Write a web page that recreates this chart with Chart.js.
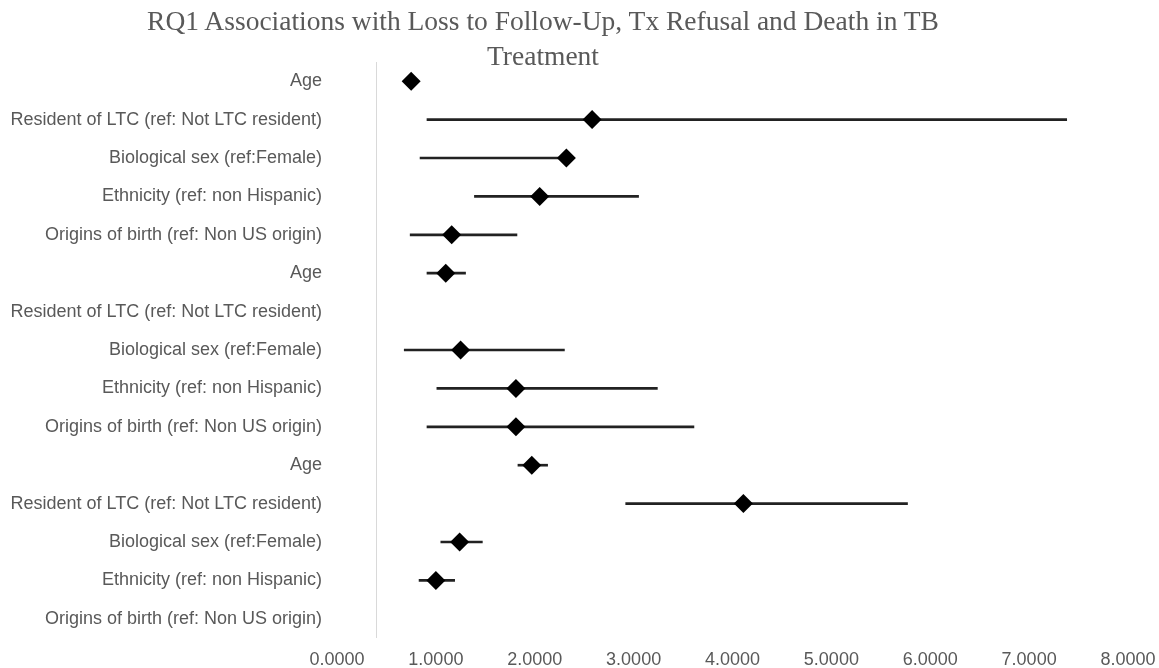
<!DOCTYPE html>
<html>
<head>
<meta charset="utf-8">
<script src="https://cdn.jsdelivr.net/npm/chart.js@4"></script>
<style>
  body { margin: 0; background: #fff; }
  #wrap { position: relative; width: 1159px; height: 668px; }
  #title {
    position: absolute; top: 3px; left: 0; width: 1086px;
    text-align: center; font-family: "Liberation Serif", "Times New Roman", serif;
    font-size: 27.5px; line-height: 35px; color: #595959;
  }
</style>
</head>
<body>
<div id="wrap">
  <div id="title">RQ1 Associations with Loss to Follow-Up, Tx Refusal and Death in TB<br>Treatment</div>
  <canvas id="forest" width="1159" height="668"></canvas>
</div>
<script>
// Forest plot

const rowLabels = [
  "Age",
  "Resident of LTC (ref: Not LTC resident)",
  "Biological sex (ref:Female)",
  "Ethnicity (ref: non Hispanic)",
  "Origins of birth (ref: Non US origin)",
  "Age",
  "Resident of LTC (ref: Not LTC resident)",
  "Biological sex (ref:Female)",
  "Ethnicity (ref: non Hispanic)",
  "Origins of birth (ref: Non US origin)",
  "Age",
  "Resident of LTC (ref: Not LTC resident)",
  "Biological sex (ref:Female)",
  "Ethnicity (ref: non Hispanic)",
  "Origins of birth (ref: Non US origin)",
];

const oddsRatio = [0.75, 2.58, 2.32, 2.05, 1.16, 1.10, null, 1.25, 1.81, 1.81, 1.97, 4.11, 1.24, 1.00, null];
const ciLower   = [0.73, 0.91, 0.84, 1.39, 0.74, 0.91, null, 0.68, 1.01, 0.91, 1.83, 2.92, 1.05, 0.83, null];
const ciUpper   = [0.77, 7.38, 2.33, 3.05, 1.82, 1.30, null, 2.30, 3.24, 3.61, 2.13, 5.77, 1.47, 1.19, null];

const xTicks = [0, 1, 2, 3, 4, 5, 6, 7, 8];
const refLineX = 0.39;

const ciBars = ciLower.map((lo, i) => (lo === null ? null : [lo, ciUpper[i]]));

const refLine = {
  id: "refLine",
  beforeDatasetsDraw(chart) {
    const { ctx, chartArea, scales } = chart;
    const x = Math.round(scales.x.getPixelForValue(refLineX)) + 0.5;
    ctx.save();
    ctx.strokeStyle = "#d9d9d9";
    ctx.lineWidth = 1;
    ctx.beginPath();
    ctx.moveTo(x, chartArea.top);
    ctx.lineTo(x, chartArea.bottom);
    ctx.stroke();
    ctx.restore();
  },
};

const ctx = document.getElementById("forest");

new Chart(ctx, {
  type: "bar",
  data: {
    labels: rowLabels,
    datasets: [
      {
        type: "line",
        label: "Odds ratio",
        data: oddsRatio,
        showLine: false,
        pointStyle: "rectRot",
        pointRadius: 9.5,
        pointBackgroundColor: "#000",
        pointBorderColor: "#000",
        pointBorderWidth: 0,
        order: 0,
      },
      {
        label: "95% CI",
        data: ciBars,
        backgroundColor: "#222",
        barThickness: 2,
        order: 1,
      },
    ],
  },
  options: {
    indexAxis: "y",
    responsive: false,
    animation: false,
    layout: { padding: { top: 62, right: 31, left: 0, bottom: 0 } },
    plugins: {
      legend: { display: false },
      title: { display: false },
      tooltip: { enabled: false },
    },
    scales: {
      x: {
        min: 0,
        max: 8,
        afterBuildTicks: (s) => { s.ticks = xTicks.map((v) => ({ value: v })); },
        afterFit: (s) => {
          s.height = 30;
          s.paddingLeft = 0;
          s.paddingRight = 0;
        },
        grid: { display: false, drawTicks: false },
        border: { display: false },
        ticks: {
          padding: 11,
          color: "#595959",
          maxRotation: 0,
          font: { family: "Liberation Sans, Arial, sans-serif", size: 18 },
          callback: (v) => Number(v).toFixed(4),
        },
      },
      y: {
        afterFit: (s) => { s.width = 337; },
        grid: { display: false, drawTicks: false },
        border: { display: false },
        ticks: {
          padding: 15,
          color: "#595959",
          autoSkip: false,
          font: { family: "Liberation Sans, Arial, sans-serif", size: 18 },
        },
      },
    },
  },
  plugins: [refLine],
});
</script>
</body>
</html>
